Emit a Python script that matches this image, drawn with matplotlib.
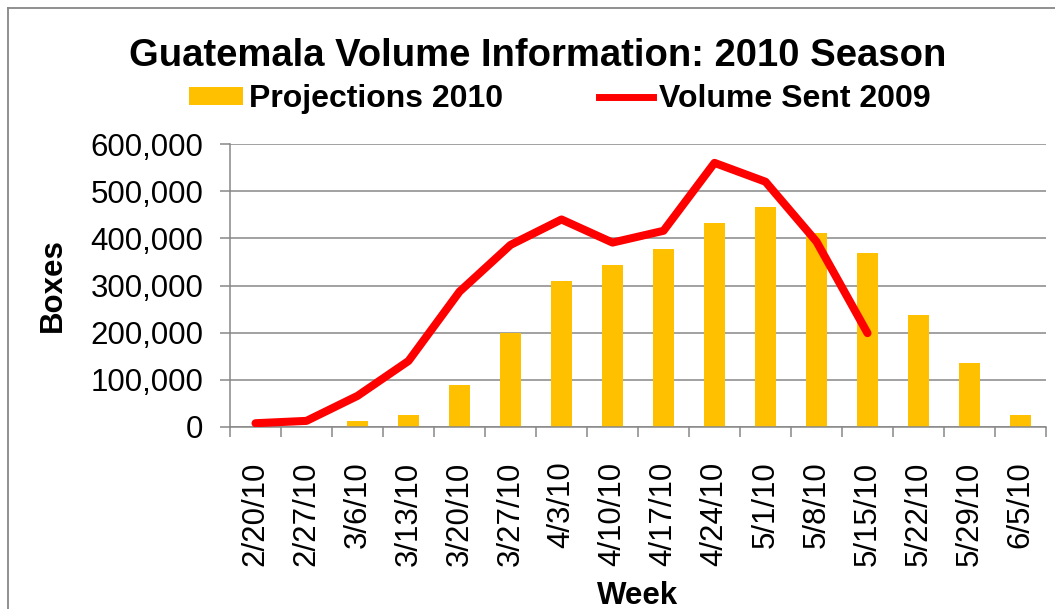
import matplotlib
matplotlib.use("Agg")
import matplotlib.pyplot as plt
from matplotlib.lines import Line2D
from matplotlib.patches import Patch
from matplotlib.ticker import FuncFormatter, MultipleLocator, FixedLocator

plt.rcParams['font.family'] = ['Liberation Sans', 'DejaVu Sans']

weeks = ["2/20/10", "2/27/10", "3/6/10", "3/13/10", "3/20/10", "3/27/10",
         "4/3/10", "4/10/10", "4/17/10", "4/24/10", "5/1/10", "5/8/10",
         "5/15/10", "5/22/10", "5/29/10", "6/5/10"]
projections_2010 = [0, 0, 13000, 25000, 89000, 199000, 310000, 343000,
                    377000, 432000, 466000, 411000, 369000, 237000, 136000, 25000]
volume_sent_2009 = [8000, 13000, 66000, 140000, 287000, 386000, 440000,
                    391000, 416000, 560000, 520000, 393000, 199000]

BAR_COLOR = "#FFC000"
LINE_COLOR = "#FF0000"
GRID_COLOR = "#878787"

W, H = 1055, 609
fig = plt.figure(figsize=(W / 100, H / 100), dpi=100)

# outer chart frame
fig.add_artist(Line2D([7.5 / W, 1.0], [1 - 7.5 / H, 1 - 7.5 / H],
                      transform=fig.transFigure, color=GRID_COLOR, lw=1.3))
fig.add_artist(Line2D([7.5 / W, 7.5 / W], [0.0, 1 - 7.5 / H],
                      transform=fig.transFigure, color=GRID_COLOR, lw=1.3))

AX_W, AX_H = 816, 283
ax = fig.add_axes([230 / W, 1 - 427 / H, AX_W / W, AX_H / H])

x = list(range(len(weeks)))
ax.bar(x, projections_2010, width=0.40, color=BAR_COLOR, zorder=2,
       label="Projections 2010")
ax.plot(range(len(volume_sent_2009)), volume_sent_2009, color=LINE_COLOR,
        lw=5.8, solid_capstyle="round", solid_joinstyle="round", zorder=3,
        label="Volume Sent 2009")

ax.set_xlim(-0.5, len(weeks) - 0.5)
ax.set_ylim(0, 600000)
ax.yaxis.set_major_locator(MultipleLocator(100000))
ax.yaxis.set_major_formatter(FuncFormatter(lambda v, p: f"{v:,.0f}"))
ax.grid(axis="y", color=GRID_COLOR, lw=1.1, zorder=0)

# category labels centred, tick marks on the category boundaries
ax.set_xticks(x)
ax.set_xticklabels(weeks, rotation=90, fontsize=22.5)
ax.xaxis.set_minor_locator(FixedLocator([i - 0.5 for i in range(len(weeks) + 1)]))
ax.tick_params(axis="x", which="major", length=0, pad=25)
ax.tick_params(axis="x", which="minor", length=7.2, width=1.1, color=GRID_COLOR,
               direction="out")
ax.tick_params(axis="y", length=7.2, width=1.1, color=GRID_COLOR, pad=12,
               labelsize=22.5)

for side in ("top", "right"):
    ax.spines[side].set_visible(False)
for side in ("left", "bottom"):
    ax.spines[side].set_color(GRID_COLOR)
    ax.spines[side].set_linewidth(1.1)
ax.set_axisbelow(True)

ax.set_ylabel("Boxes", fontsize=22.5, fontweight="bold")
ax.yaxis.set_label_coords((68 - 230) / AX_W, 0.5)
ax.set_xlabel("Week", fontsize=22.5, fontweight="bold")
ax.xaxis.set_label_coords(0.5, (427 - 581) / AX_H)

fig.text(538 / W, 1 - 66 / H, "Guatemala Volume Information: 2010 Season",
         ha="center", va="baseline", fontsize=27.5, fontweight="bold")

handles = [Patch(facecolor=BAR_COLOR, edgecolor="none", label="Projections 2010"),
           Line2D([], [], color=LINE_COLOR, lw=5.0, label="Volume Sent 2009")]
fig.legend(handles=handles, loc="center", bbox_to_anchor=(560 / W, 1 - 99 / H),
           ncol=2, frameon=False, prop={"weight": "bold", "size": 23},
           handlelength=1.68, handleheight=0.5, handletextpad=0.2,
           columnspacing=3.0, borderaxespad=0, borderpad=0)

fig.savefig("out.png", dpi=100)
